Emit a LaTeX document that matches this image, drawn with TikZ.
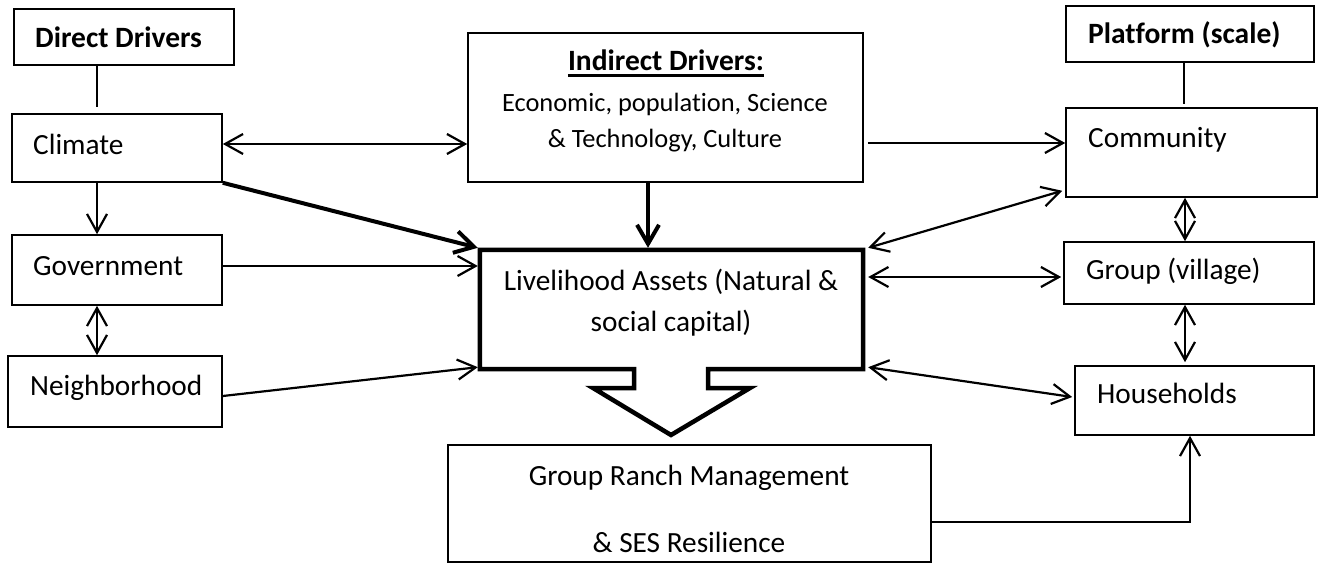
\documentclass[tikz,border=0pt]{standalone}
\usepackage{fontspec}
\setmainfont{Carlito}[Ligatures={NoCommon}]
\usetikzlibrary{arrows.meta}
\begin{document}
\begin{tikzpicture}[x=1pt,y=-1pt,
  box/.style={draw, line width=1.6pt, inner sep=0pt},
  txt/.style={inner sep=0pt, font=\fontsize{29.3}{35}\selectfont},
  stxt/.style={inner sep=0pt, font=\fontsize{26.4}{32}\selectfont},
  btxt/.style={inner sep=0pt, font=\fontsize{29.5}{35}\selectfont\bfseries},
  plain/.style={line width=1.8pt},
  >={Straight Barb[length=18pt,width=20pt]},
  link/.style={line width=2.2pt, ->},
  dbl/.style={line width=2.2pt, <->},
  heavy/.style={line width=4pt, -{Straight Barb[length=19pt,width=22pt]}},
  outline/.style={line width=4.5pt, line join=miter}
]
\useasboundingbox (0,0) rectangle (1321,567);

% left column: direct drivers
\node[box, minimum width=220pt, minimum height=56pt] (dd) at (124,37) {};
\node[btxt, anchor=base west] (dd-t) at (35,48) {Direct Drivers};
\node[box, minimum width=210pt, minimum height=68pt] (climate) at (117,148) {};
\node[txt, anchor=base west] (climate-t) at (33,154) {Climate};
\node[box, minimum width=210pt, minimum height=70pt] (gov) at (117,270) {};
\node[txt, anchor=base west] (gov-t) at (33,275) {Government};
\node[box, minimum width=214pt, minimum height=71pt] (neigh) at (115,391.5) {};
\node[txt, anchor=base west] (neigh-t) at (30,395) {Neighborhood};

% centre: indirect drivers
\node[box, minimum width=395pt, minimum height=149pt] (indirect) at (665.5,107.5) {};
\node[btxt, anchor=base] (ind-t) at (666,71) {Indirect Drivers:};
\draw[line width=2.4pt] ([yshift=-4.5pt]ind-t.base west) -- ([yshift=-4.5pt]ind-t.base east);
\node[stxt, anchor=base] (ind-l1) at (665,111) {Economic, population, Science};
\node[stxt, anchor=base] (ind-l2) at (665,147) {\& Technology, Culture};

% centre: livelihood assets with its block arrow
\node[inner sep=0pt, minimum width=383pt, minimum height=119pt] (liv) at (671.5,309.5) {};
\draw[outline] (liv.north west) -- (liv.north east) -- (liv.south east)
  -- (708,369) -- (708,388) -- (750,388) -- (671,435) -- (593,388)
  -- (634,388) -- (634,369) -- (liv.south west) -- cycle;
\node[txt, anchor=base] (liv-l1) at (671,290) {Livelihood Assets (Natural \&};
\node[txt, anchor=base] (liv-l2) at (671,331) {social capital)};

% bottom: outcome
\node[box, minimum width=483pt, minimum height=117pt] (ranch) at (689.5,503.5) {};
\node[txt, anchor=base] (ranch-l1) at (689,485) {Group Ranch Management};
\node[txt, anchor=base] (ranch-l2) at (689,552) {\& SES Resilience};

% right column: platform scales
\node[box, minimum width=248pt, minimum height=56pt] (platform) at (1190,34) {};
\node[btxt, anchor=base west] (platform-t) at (1088,44) {Platform (scale)};
\node[box, minimum width=251pt, minimum height=89pt] (comm) at (1191.5,152.5) {};
\node[txt, anchor=base west] (comm-t) at (1088,147) {Community};
\node[box, minimum width=250pt, minimum height=62pt] (group) at (1189,273) {};
\node[txt, anchor=base west] (group-t) at (1086,279) {Group (village)};
\node[box, minimum width=239pt, minimum height=69pt] (hh) at (1194.5,400.5) {};
\node[txt, anchor=base west] (hh-t) at (1097,403) {Households};

% helper columns and free ends
\coordinate (lcol) at (97,0);
\coordinate (icol) at (648,0);
\coordinate (rcol) at (1185,0);
\coordinate (hcol) at (1190,0);
\coordinate (ddend) at (97,107);
\coordinate (plend) at (1184,104);

% left connectors
\draw[plain] (dd.south -| ddend) -- (ddend);
\path ([yshift=4pt]climate.east) coordinate (a1);
\draw[dbl] (a1) -- (a1 -| indirect.west);
\draw[heavy] (climate.south east) -- ([shift={(-2pt,2pt)}]liv.north west);
\draw[link] (climate.south -| lcol) -- (gov.north -| lcol);
\path ([yshift=4pt]gov.east) coordinate (a2);
\draw[link] (a2) -- ([xshift=-2pt]a2 -| liv.west);
\draw[dbl] (gov.south -| lcol) -- (neigh.north -| lcol);
\draw[link] ([yshift=-4.5pt]neigh.east) -- ([shift={(-2pt,2pt)}]liv.south west);

% centre connectors
\draw[heavy] (indirect.south -| icol) -- ([yshift=2pt]liv.north -| icol);
\path ([yshift=9.5pt]comm.west) coordinate (a3);
\path ([xshift=4pt]indirect.east) coordinate (ie);
\draw[link] (ie |- a3) -- (a3);

% right connectors
\draw[plain] (platform.south -| plend) -- (plend);
\draw[dbl] ([shift={(5pt,2pt)}]liv.north east) -- ([shift={(-3pt,7pt)}]comm.south west);
\path ([yshift=-4pt]group.west) coordinate (a4);
\path ([xshift=5pt]liv.east) coordinate (le);
\draw[dbl] (le |- a4) -- ([xshift=-2pt]a4);
\draw[dbl] ([shift={(5pt,2pt)}]liv.south east) -- ([shift={(-2pt,3.5pt)}]hh.west);
\draw[dbl] (comm.south -| rcol) -- (group.north -| rcol);
\path ([yshift=3pt]hh.north) coordinate (hn);
\draw[dbl] (group.south -| rcol) -- (hn -| rcol);
\draw[link] ([yshift=-18.5pt]ranch.east) -| (hh.south -| hcol);
\end{tikzpicture}
\end{document}
